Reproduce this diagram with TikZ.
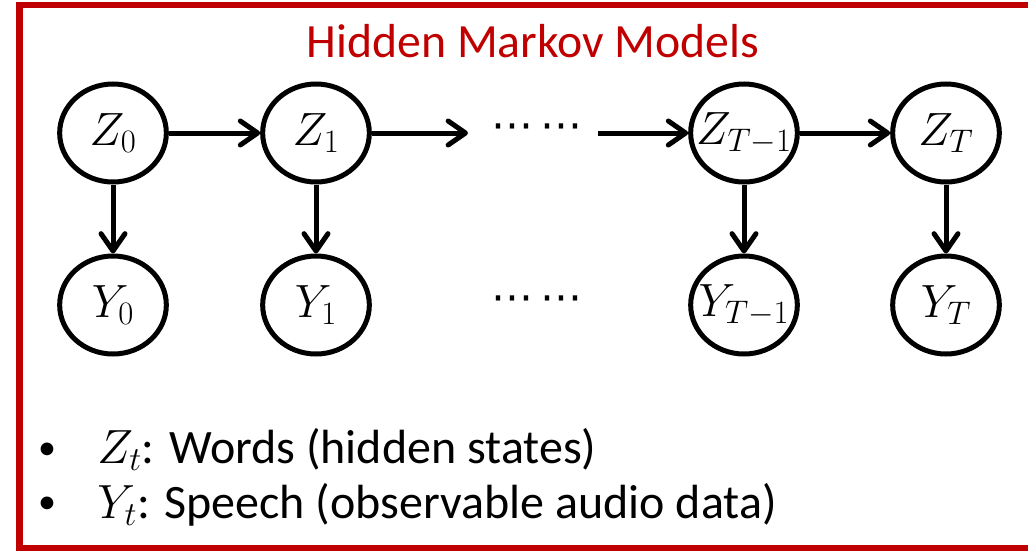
\RequirePackage{fix-cm}
\documentclass[tikz,border=0pt]{standalone}
\usepackage{fontspec}
\setmainfont{Carlito}
\newfontfamily\dotsfont{DejaVu Sans}
\usetikzlibrary{arrows.meta,shapes.geometric}
\definecolor{hmmred}{HTML}{C00000}
\begin{document}
\begin{tikzpicture}[x=0.75pt,y=-0.75pt,
  state/.style={ellipse,draw,line width=3.75pt,minimum width=80pt,minimum height=73.5pt,
    inner sep=0pt,font=\fontsize{35}{40}\selectfont},
  link/.style={line width=3.75pt,-{Straight Barb[length=13pt,width=18pt,line cap=round,line join=round]}},
  gap/.style={inner sep=0pt,font=\dotsfont\fontsize{31.5}{36}\selectfont},
  title/.style={anchor=base,inner sep=0pt,text=hmmred,font=\fontsize{35.8}{40}\selectfont},
  bullet/.style={anchor=base,inner sep=0pt,font=\fontsize{27}{32}\selectfont},
  item/.style={anchor=base west,inner sep=0pt,font=\fontsize{36}{42}\selectfont}]
\useasboundingbox (0,0) rectangle (1028,550);
% outer frame (its right side runs off the page)
\draw[hmmred,line width=4.9pt] (19.5,5) rectangle (1045,548);
% title
\node[title] (ttl) at (533,57) {Hidden Markov Models};
% hidden states (long labels may spill over the outline)
\node[state] (z0) at (113,133) {$Z_0$};
\node[state] (z1) at (316,133) {$Z_1$};
\node[state] (zt1) at (744,133) {\makebox[0pt]{$Z_{T-1}$}};
\node[state] (zt) at (946,133) {$Z_T$};
% observations
\node[state] (y0) at (113,305) {$Y_0$};
\node[state] (y1) at (316,305) {$Y_1$};
\node[state] (yt1) at (744,305) {\makebox[0pt]{$Y_{T-1}$}};
\node[state] (yt) at (946,305) {$Y_T$};
% elided middle of the chain
\node[gap] (dz) at (537,132) {⋯\hspace{5pt}⋯};
\node[gap] (dy) at (537,304) {⋯\hspace{5pt}⋯};
\coordinate (cin) at (468,133);
\coordinate (cout) at (598,133);
% transitions
\draw[link] (z0) -- (z1);
\draw[link] (z1) -- (cin);
\draw[link] (cout) -- (zt1);
\draw[link] (zt1) -- (zt);
% emissions
\draw[link] (z0) -- (y0);
\draw[link] (z1) -- (y1);
\draw[link] (zt1) -- (yt1);
\draw[link] (zt) -- (yt);
% legend
\node[bullet] (b1) at (47,459) {•};
\node[item] (l1) at (97,463) {$Z_t$: Words (hidden states)};
\node[bullet] (b2) at (47,513) {•};
\node[item] (l2) at (97,518) {$Y_t$: Speech (observable audio data)};
\end{tikzpicture}
\end{document}
